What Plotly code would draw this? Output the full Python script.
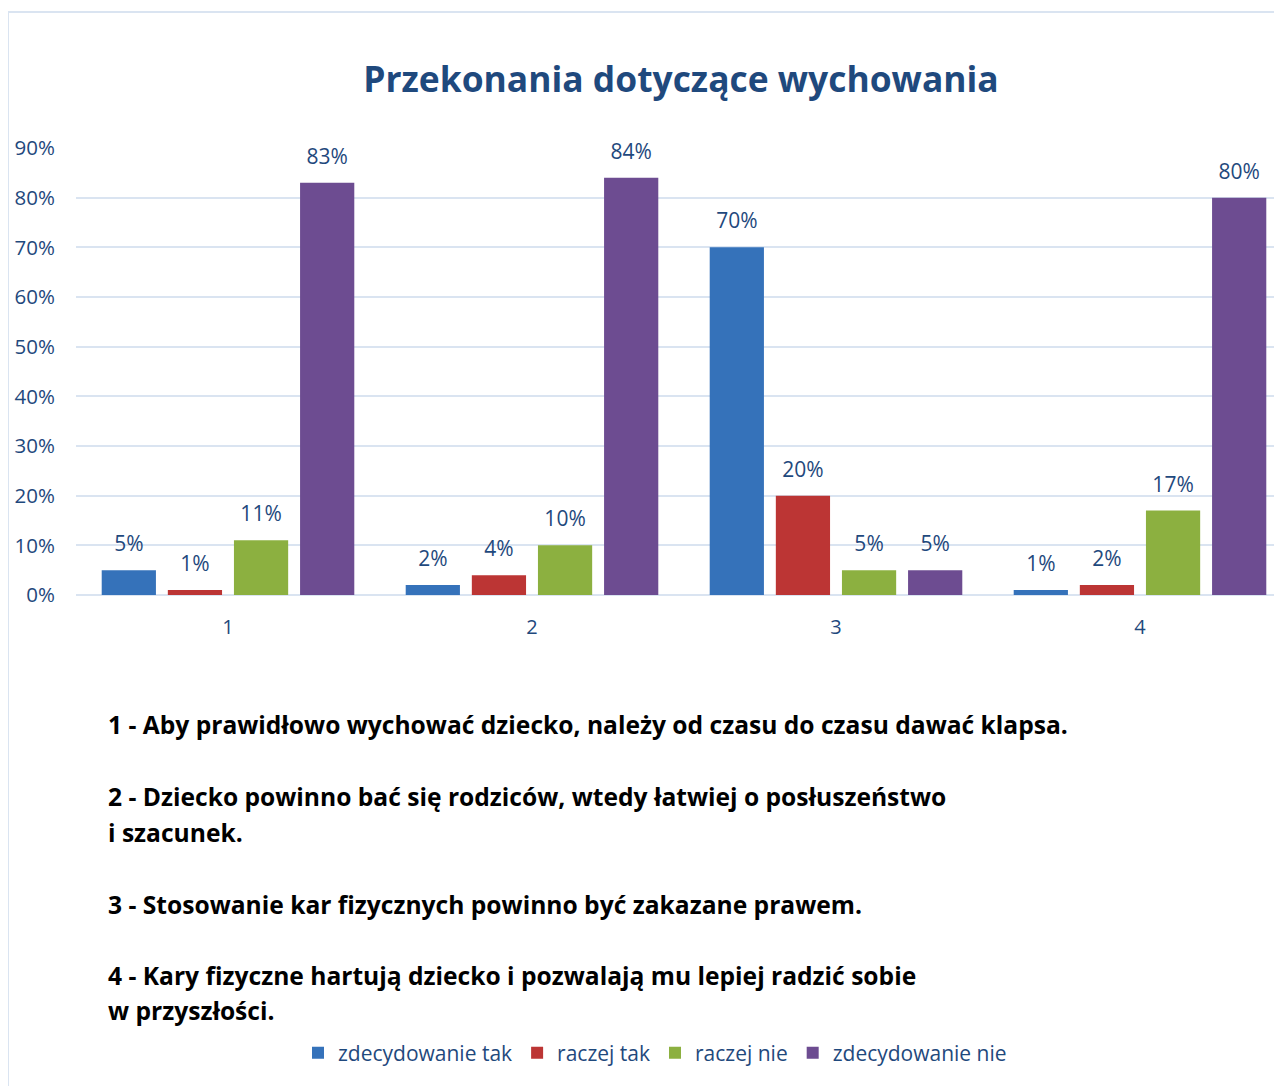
import plotly.graph_objects as go

# --- data ---
categories = ["1", "2", "3", "4"]
series_names = ["zdecydowanie tak", "raczej tak", "raczej nie", "zdecydowanie nie"]
zdecydowanie_tak = [0.05, 0.02, 0.70, 0.01]
raczej_tak = [0.01, 0.04, 0.20, 0.02]
raczej_nie = [0.11, 0.10, 0.05, 0.17]
zdecydowanie_nie = [0.83, 0.84, 0.05, 0.80]
y_ticks = [0.0, 0.1, 0.2, 0.3, 0.4, 0.5, 0.6, 0.7, 0.8, 0.9]

notes = [
    "1 - Aby prawidłowo wychować dziecko, należy od czasu do czasu dawać klapsa.",
    "2 - Dziecko powinno bać się rodziców, wtedy łatwiej o posłuszeństwo",
    "i szacunek.",
    "3 - Stosowanie kar fizycznych powinno być zakazane prawem.",
    "4 - Kary fizyczne hartują dziecko i pozwalają mu lepiej radzić sobie",
    "w przyszłości.",
]
note_rows = [724, 796, 832, 904, 975, 1011]  # pixel rows on the page

colors = ["#3572BA", "#BC3534", "#8CB040", "#6D4C91"]
text_blue = "#1F497D"
grid_blue = "#DAE4F1"
font_family = "'Open Sans', sans-serif"

# the page body has an 8px margin, so figure px = page px - 8
OFF = 8
W, H = 1284, 1078
left, top, bottom = 76 - OFF, 148 - OFF, 595 - OFF

fig = go.Figure()
for name, vals, col in zip(series_names,
                           [zdecydowanie_tak, raczej_tak, raczej_nie, zdecydowanie_nie],
                           colors):
    fig.add_trace(go.Bar(
        x=categories,
        y=vals,
        name=name,
        marker=dict(color=col, line=dict(width=0)),
        texttemplate="<span style='font-size:21px'>%{y:.0%}</span><br> ",
        textposition="outside",
        constraintext="none",
        textfont=dict(color=text_blue, size=10, family=font_family),
        cliponaxis=False,
    ))


def px_to_paper_y(py):
    return (bottom - (py - OFF)) / (bottom - top)


def px_to_paper_x(px):
    return ((px - OFF) - left) / (W - left)


annotations = []
for txt, row in zip(notes, note_rows):
    annotations.append(dict(
        text=txt, x=px_to_paper_x(106), y=px_to_paper_y(row),
        xref="paper", yref="paper", xanchor="left", yanchor="middle",
        showarrow=False, font=dict(size=24.6, color="black", family=font_family, weight="bold"),
    ))

# chart frame
shapes = [dict(
    type="rect", xref="paper", yref="paper", layer="below",
    x0=px_to_paper_x(8), x1=1.2,
    y0=px_to_paper_y(1200), y1=px_to_paper_y(12),
    line=dict(color=grid_blue, width=2), fillcolor="rgba(0,0,0,0)",
)]

fig.update_layout(
    width=W, height=H,
    margin=dict(l=left, r=0, t=top, b=H - bottom),
    paper_bgcolor="white", plot_bgcolor="white",
    barmode="group", bargap=0.13, bargroupgap=0.18,
    title=dict(
        text="<b>Przekonania dotyczące wychowania</b>",
        x=(681 - OFF) / W, xanchor="center", y=1 - (80 - OFF) / H, yanchor="middle",
        font=dict(size=35.4, color=text_blue, family=font_family),
    ),
    font=dict(family=font_family, color=text_blue, size=20),
    xaxis=dict(
        range=[-0.5, 3.5], showgrid=False, showline=False,
        tickfont=dict(size=20, color=text_blue), ticks="", ticklabelstandoff=18,
    ),
    yaxis=dict(
        range=[0, 0.9], tickvals=y_ticks, tickformat=".0%",
        showgrid=True, gridcolor=grid_blue, gridwidth=2,
        zeroline=True, zerolinecolor=grid_blue, zerolinewidth=2,
        tickfont=dict(size=20.5, color=text_blue), ticklabelstandoff=20,
    ),
    legend=dict(
        orientation="h", x=px_to_paper_x(655), xanchor="center",
        y=px_to_paper_y(1053), yanchor="middle",
        font=dict(size=21, color=text_blue), itemwidth=30, traceorder="normal",
    ),
    annotations=annotations,
    shapes=shapes,
)

fig.write_html("out.html")
